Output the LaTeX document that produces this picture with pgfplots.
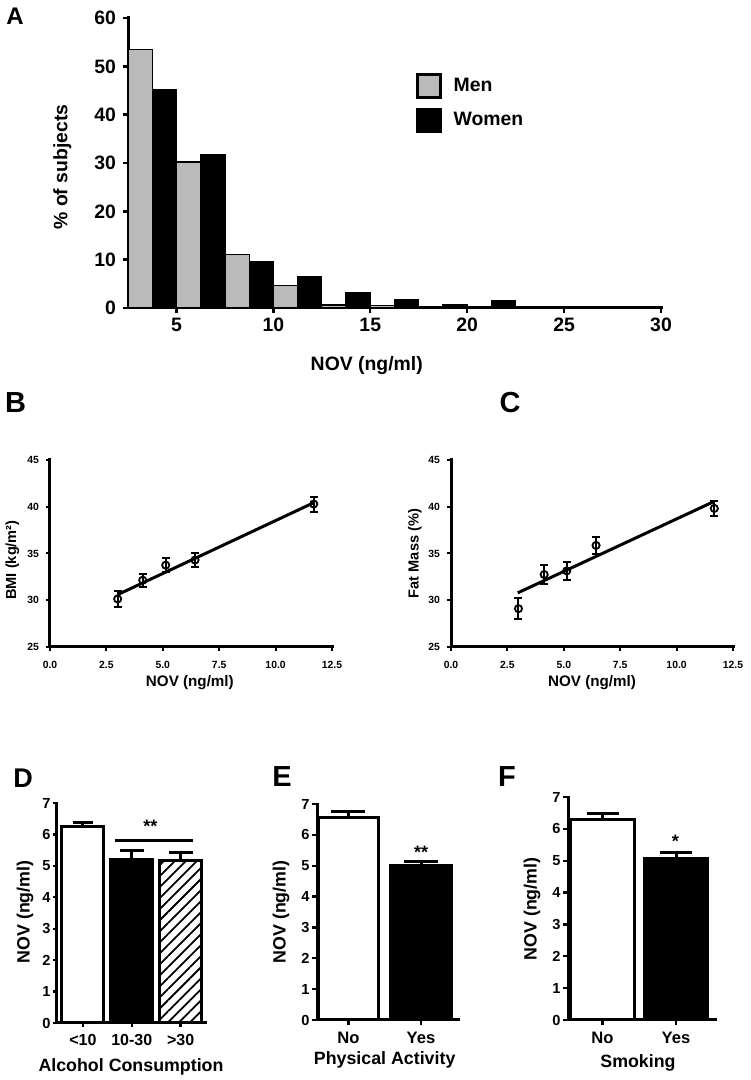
\documentclass[border=0pt]{standalone}
\usepackage{fontspec}
\setmainfont{Liberation Sans}
\usepackage{pgfplots}
\pgfplotsset{compat=1.18}
\usetikzlibrary{patterns.meta}
\begin{document}
\begin{tikzpicture}
\path[use as bounding box] (0,0) rectangle (375pt,540pt);
\pgfplotsset{
  panel/.style={
    scale only axis,
    anchor=south west,
    axis lines=left,
    axis line style={-, line width=1.5pt, line cap=rect},
    tick align=outside,
    major tick length=2.5pt,
    tick style={line width=1.2pt, black},
    /pgf/number format/assume math mode=true,
    clip=false,
  },
  ebar/.style={error bars/.cd, y dir=plus, y explicit,
    error bar style={line width=1.5pt},
    error mark options={rotate=90, mark size=#1, line width=1.5pt}},
  decx/.style={xticklabel style={/pgf/number format/fixed, /pgf/number format/fixed zerofill, /pgf/number format/precision=1, /tikz/yshift=-1.5pt}},
}
% ---------------- Panel A ----------------
\begin{axis}[panel, at={(64pt,386pt)},
  width=266.5pt, height=145pt,
  xmin=2.5, xmax=30, ymin=0, ymax=60,
  xtick={5,10,...,30}, ytick={0,10,...,60},
  ticklabel style={font=\bfseries\fontsize{9.7}{11}\selectfont},
  xticklabel style={yshift=1.2pt},
  xlabel={NOV (ng/ml)}, ylabel={\% of subjects},
  label style={font=\bfseries\fontsize{9.7}{11}\selectfont},
  xlabel style={at={(axis description cs:0.448,-0.2)}, anchor=center},
  ylabel style={at={(axis description cs:-0.123,0.486)}, anchor=center},
  bar width=1.25, bar shift=0pt,
  legend style={draw=none, fill=none, inner sep=0pt, row sep=4.5pt,
    at={(axis description cs:0.54,0.81)}, anchor=north west,
    nodes={inner sep=0pt, anchor=west},
    font=\bfseries\fontsize{9.7}{11}\selectfont},
  /tikz/every odd column/.append style={column sep=6pt},
  legend image code/.code={\draw[#1, line width=1.2pt] (0pt,-5.75pt) rectangle (11.5pt,5.75pt);},
]
\addplot[ybar, fill=black!27, draw=black, line width=0.6pt] coordinates {
 (3.125,53.4) (5.625,30.2) (8.125,11.0) (10.625,4.7) (13.125,0.6) (15.625,0.5)
 (18.125,0.1) (20.625,0.1) (23.125,0.1) (25.625,0.1) (28.125,0.1)};
\addplot[ybar, fill=black, draw=black, line width=0.6pt] coordinates {
 (4.375,45.1) (6.875,31.7) (9.375,9.7) (11.875,6.4) (14.375,3.2) (16.875,1.8)
 (19.375,0.8) (21.875,1.6) (24.375,0.35) (26.875,0.35) (29.375,0.35)};
\legend{Men, Women}
\end{axis}
% ---------------- Panel B ----------------
\begin{axis}[panel, at={(25pt,216.5pt)},
  width=141pt, height=93.5pt,
  xmin=0, xmax=12.5, ymin=25, ymax=45,
  xtick={0,2.5,5,7.5,10,12.5}, ytick={25,30,...,45},
  major tick length=2pt, tick style={line width=1pt},
  ticklabel style={font=\bfseries\fontsize{5.2}{6}\selectfont},
  decx,
  xlabel={NOV (ng/ml)}, ylabel={BMI (kg/m²)},
  xlabel style={font=\bfseries\fontsize{7.6}{9}\selectfont, at={(axis description cs:0.496,-0.193)}, anchor=center},
  ylabel style={font=\bfseries\fontsize{7.3}{9}\selectfont, at={(axis description cs:-0.133,0.465)}, anchor=center},
]
\addplot[black, line width=1.5pt] coordinates {(3.0,30.6) (11.69,40.43)};
\addplot[only marks, mark=o, mark size=1.8pt, mark options={fill=white, line width=0.9pt}, black,
  error bars/.cd, y dir=both, y explicit, error bar style={line width=1pt},
  error mark options={rotate=90, mark size=2pt, line width=1pt}]
  coordinates {(3.0,30.14) +- (0,0.85) (4.11,32.14) +- (0,0.7) (5.13,33.75) +- (0,0.75)
   (6.43,34.3) +- (0,0.75) (11.69,40.29) +- (0,0.8)};
\end{axis}
% ---------------- Panel C ----------------
\begin{axis}[panel, at={(225.5pt,216.5pt)},
  width=141pt, height=93.5pt,
  xmin=0, xmax=12.5, ymin=25, ymax=45,
  xtick={0,2.5,5,7.5,10,12.5}, ytick={25,30,...,45},
  major tick length=2pt, tick style={line width=1pt},
  ticklabel style={font=\bfseries\fontsize{5.2}{6}\selectfont},
  decx,
  xlabel={NOV (ng/ml)}, ylabel={Fat Mass (\%)},
  xlabel style={font=\bfseries\fontsize{7.6}{9}\selectfont, at={(axis description cs:0.5,-0.193)}, anchor=center},
  ylabel style={font=\bfseries\fontsize{7.3}{9}\selectfont, at={(axis description cs:-0.128,0.5)}, anchor=center},
]
\addplot[black, line width=1.5pt] coordinates {(2.96,30.79) (11.64,40.54)};
\addplot[only marks, mark=o, mark size=1.8pt, mark options={fill=white, line width=0.9pt}, black,
  error bars/.cd, y dir=both, y explicit, error bar style={line width=1pt},
  error mark options={rotate=90, mark size=2pt, line width=1pt}]
  coordinates {(2.99,29.1) +- (0,1.15) (4.13,32.75) +- (0,1.0) (5.13,33.14) +- (0,0.95)
   (6.43,35.86) +- (0,0.95) (11.67,39.82) +- (0,0.8)};
\end{axis}
% ---------------- Panel D ----------------
\begin{axis}[panel, at={(28.5pt,28.5pt)},
  width=74pt, height=110pt,
  xmin=-0.53, xmax=2.5, ymin=0, ymax=7,
  xtick={0,1,2}, xticklabels={<10,10-30,>30}, ytick={0,1,...,7},
  major tick length=2pt,
  bar width=0.86, bar shift=0pt,
  xticklabel style={font=\bfseries\fontsize{8}{9}\selectfont},
  yticklabel style={font=\bfseries\fontsize{7.3}{9}\selectfont, inner sep=1pt},
  xlabel={Alcohol Consumption}, ylabel={NOV (ng/ml)},
  label style={font=\bfseries\fontsize{8.9}{10}\selectfont},
  xlabel style={at={(axis description cs:0.5,-0.2)}, anchor=center},
  ylabel style={at={(axis description cs:-0.216,0.505)}, anchor=center},
]
\addplot[ybar, fill=white, draw=black, line width=1.5pt, ebar=5pt] coordinates {(0,6.25) +- (0,0.14)};
\addplot[ybar, fill=black, draw=black, line width=1.5pt, ebar=6pt] coordinates {(1,5.19) +- (0,0.3)};
\addplot[ybar, fill=white, pattern={Lines[angle=45, distance=3.9pt, line width=0.9pt]}, draw=black, line width=1.5pt, ebar=6pt] coordinates {(2,5.16) +- (0,0.28)};
\addplot[sharp plot, no marks, black, line width=1.5pt, forget plot] coordinates {(0.66,5.81) (2.26,5.81)};
\node[anchor=base, font=\bfseries\fontsize{9}{10}\selectfont] at (axis cs:1.38,6.05) {**};
\end{axis}
% ---------------- Panel E ----------------
\begin{axis}[panel, at={(158.5pt,30pt)},
  width=70.5pt, height=108pt,
  xmin=-0.434, xmax=1.51, ymin=0, ymax=7,
  xtick={0,1}, xticklabels={No,Yes}, ytick={0,1,...,7},
  major tick length=2.5pt,
  bar width=0.84, bar shift=0pt,
  xticklabel style={font=\bfseries\fontsize{8.3}{9}\selectfont},
  yticklabel style={font=\bfseries\fontsize{7.3}{9}\selectfont, inner sep=1pt},
  xlabel={Physical Activity}, ylabel={NOV (ng/ml)},
  label style={font=\bfseries\fontsize{8.9}{10}\selectfont},
  xlabel style={at={(axis description cs:0.48,-0.185)}, anchor=center},
  ylabel style={at={(axis description cs:-0.255,0.5)}, anchor=center},
]
\addplot[ybar, fill=white, draw=black, line width=1.5pt, ebar=8.5pt] coordinates {(0,6.57) +- (0,0.2)};
\addplot[ybar, fill=black, draw=black, line width=1.5pt, ebar=8.5pt] coordinates {(1,5.02) +- (0,0.12)};
\node[anchor=base, font=\bfseries\fontsize{9}{10}\selectfont] at (axis cs:1.0,5.25) {**};
\end{axis}
% ---------------- Panel F ----------------
\begin{axis}[panel, at={(284pt,30pt)},
  width=73.5pt, height=111.5pt,
  xmin=-0.47, xmax=1.53, ymin=0, ymax=7,
  xtick={0,1}, xticklabels={No,Yes}, ytick={0,1,...,7},
  major tick length=2.5pt,
  bar width=0.86, bar shift=0pt,
  xticklabel style={font=\bfseries\fontsize{8.3}{9}\selectfont},
  yticklabel style={font=\bfseries\fontsize{7.3}{9}\selectfont, inner sep=1pt},
  xlabel={Smoking}, ylabel={NOV (ng/ml)},
  label style={font=\bfseries\fontsize{8.9}{10}\selectfont},
  xlabel style={at={(axis description cs:0.476,-0.193)}, anchor=center},
  ylabel style={at={(axis description cs:-0.245,0.498)}, anchor=center},
]
\addplot[ybar, fill=white, draw=black, line width=1.5pt, ebar=8pt] coordinates {(0,6.3) +- (0,0.18)};
\addplot[ybar, fill=black, draw=black, line width=1.5pt, ebar=8pt] coordinates {(1,5.07) +- (0,0.19)};
\node[anchor=base, font=\bfseries\fontsize{9}{10}\selectfont] at (axis cs:0.99,5.43) {*};
\end{axis}
% ---------------- Panel letters ----------------
\node[font=\bfseries\fontsize{12}{14}\selectfont] at (7.5pt,531.75pt) {A};
\node[font=\bfseries\fontsize{14.5}{16}\selectfont] at (7.75pt,338.5pt) {B};
\node[font=\bfseries\fontsize{14.5}{16}\selectfont] at (255pt,338.5pt) {C};
\node[font=\bfseries\fontsize{13.5}{16}\selectfont] at (11.5pt,151pt) {D};
\node[font=\bfseries\fontsize{14.5}{16}\selectfont] at (141pt,151.5pt) {E};
\node[font=\bfseries\fontsize{14.5}{16}\selectfont] at (253.5pt,151.5pt) {F};
\end{tikzpicture}
\end{document}
